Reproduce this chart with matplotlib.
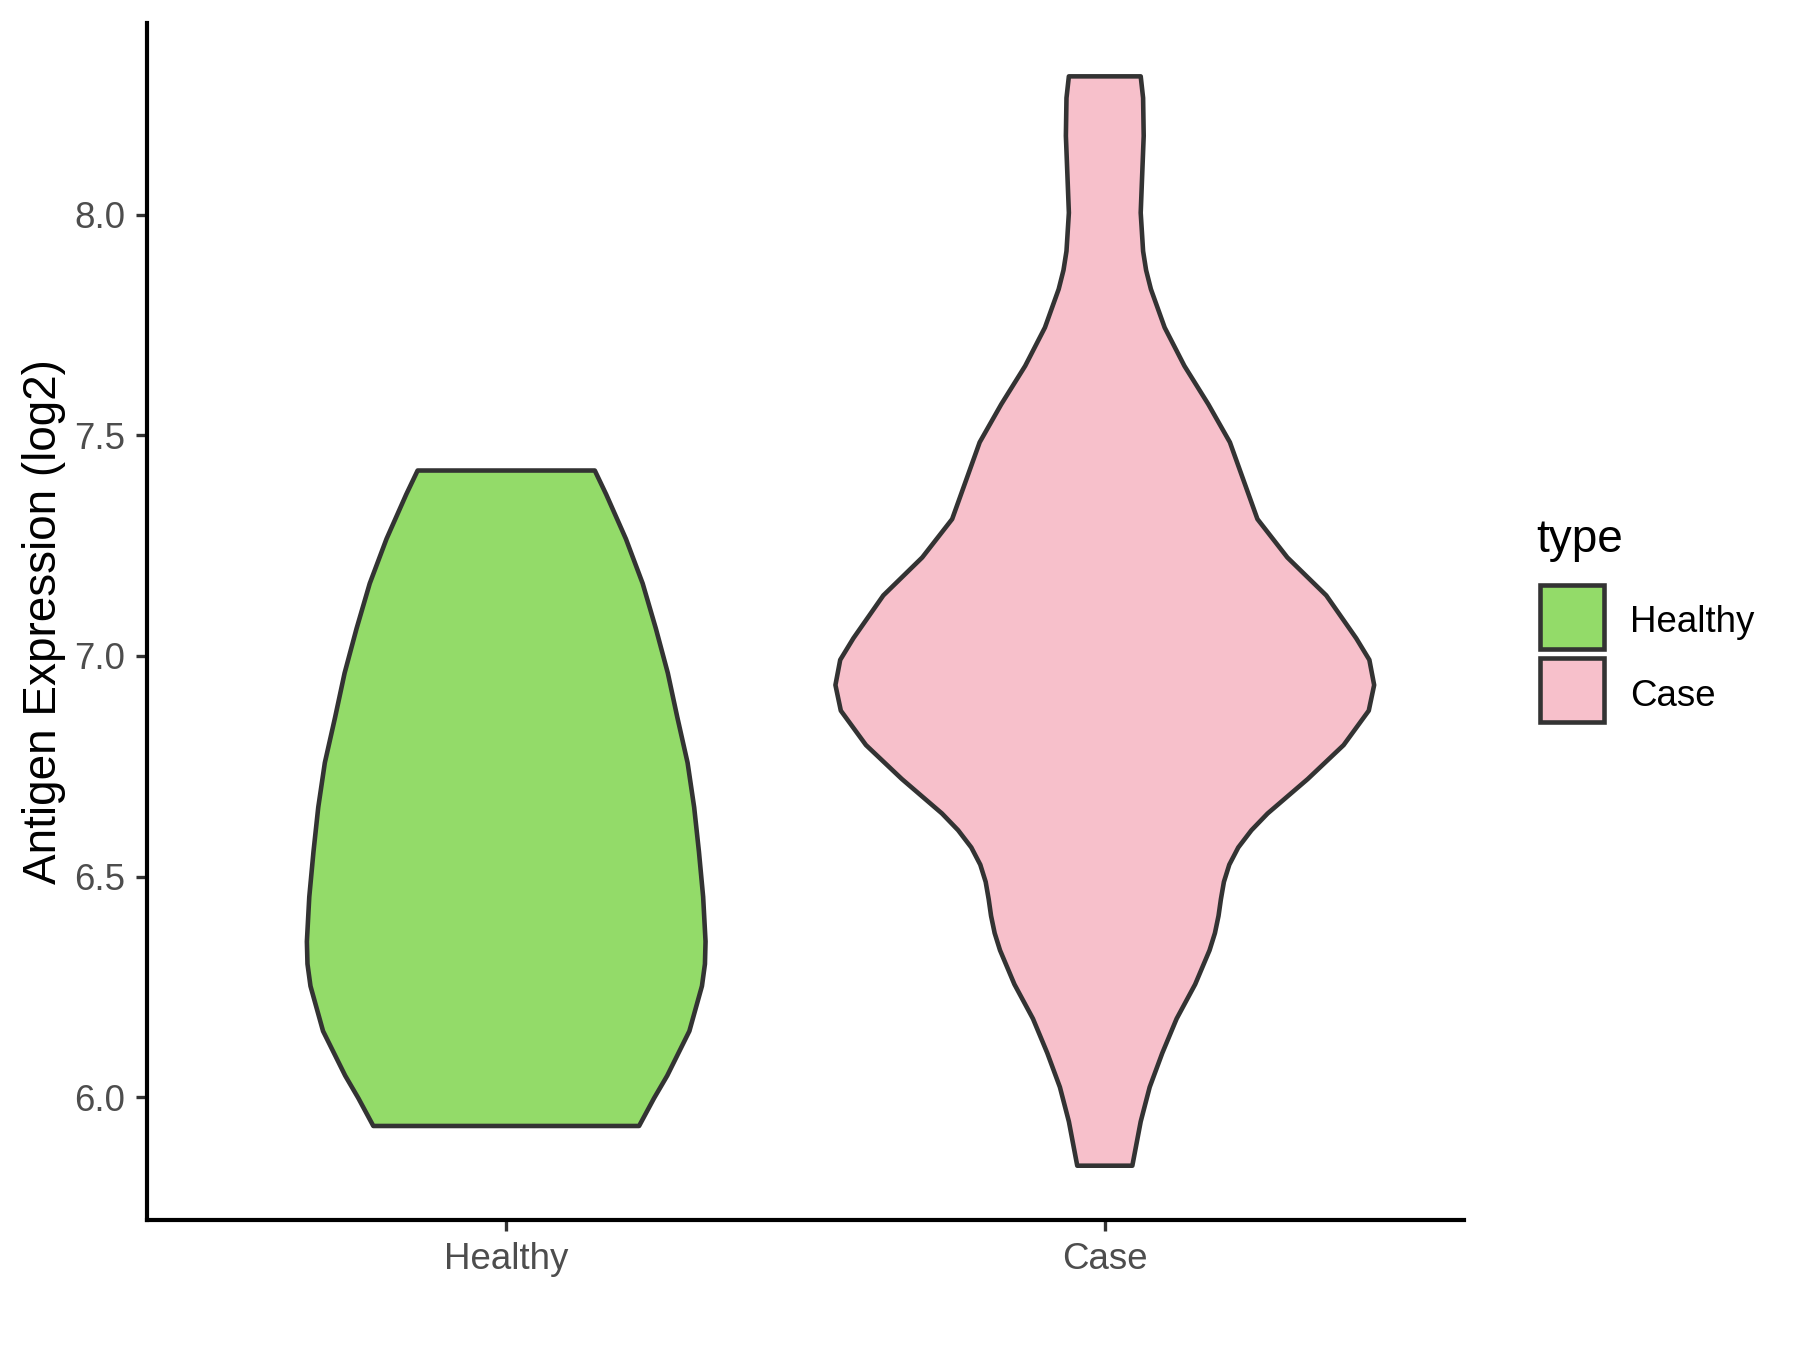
import numpy as np
import matplotlib.pyplot as plt
from matplotlib.patches import Rectangle

plt.rcParams['font.family'] = ['Liberation Sans', 'DejaVu Sans']

# groups and colours
groups = ['Healthy', 'Case']
colors = ['#93DB69', '#F7C0CB']

# violin outlines: expression level and half width (x units)
healthy_y = [5.935, 5.998, 6.049, 6.150, 6.252, 6.302, 6.353, 6.454, 6.556,
             6.657, 6.758, 6.860, 6.961, 7.062, 7.164, 7.265, 7.366, 7.420]
healthy_w = [0.222, 0.247, 0.269, 0.306, 0.327, 0.332, 0.333, 0.329, 0.322,
             0.314, 0.303, 0.286, 0.270, 0.250, 0.228, 0.200, 0.167, 0.148]

case_y = [5.845, 5.945, 6.023, 6.100, 6.178, 6.256, 6.333, 6.372, 6.411, 6.449,
          6.488, 6.527, 6.566, 6.605, 6.643, 6.721, 6.798, 6.876, 6.934, 6.991,
          7.040, 7.137, 7.223, 7.310, 7.397, 7.484, 7.570, 7.657, 7.744, 7.831,
          7.874, 7.917, 8.004, 8.091, 8.178, 8.264, 8.313]
case_w = [0.046, 0.060, 0.075, 0.096, 0.120, 0.151, 0.175, 0.184, 0.190, 0.194,
          0.199, 0.208, 0.223, 0.245, 0.272, 0.339, 0.399, 0.441, 0.450, 0.442,
          0.420, 0.370, 0.305, 0.255, 0.232, 0.209, 0.173, 0.133, 0.100, 0.077,
          0.069, 0.064, 0.060, 0.0625, 0.065, 0.064, 0.060]

profiles = [(healthy_y, healthy_w), (case_y, case_w)]

fig = plt.figure(figsize=(6, 4.5), dpi=300)
ax = fig.add_axes([0.0817, 0.0963, 0.7316, 0.8867])

for i, (yy, ww) in enumerate(profiles):
    yy = np.array(yy)
    ww = np.array(ww)
    pos = i + 1
    xs = np.concatenate([pos - ww, (pos + ww)[::-1]])
    ys = np.concatenate([yy, yy[::-1]])
    ax.fill(xs, ys, facecolor=colors[i], edgecolor='#333333', linewidth=1.1,
            joinstyle='round')

ax.set_xlim(0.4, 2.6)
ax.set_ylim(5.722, 8.434)
ax.set_xticks([1, 2])
ax.set_xticklabels(groups)
ax.set_yticks([6.0, 6.5, 7.0, 7.5, 8.0])
ax.set_yticklabels(['6.0', '6.5', '7.0', '7.5', '8.0'])
ax.tick_params(axis='both', labelsize=8.8, labelcolor='#4D4D4D',
               color='#333333', length=2.75, width=0.8)
ax.tick_params(axis='x', pad=2.5)
ax.tick_params(axis='y', pad=2.5)

for s in ['top', 'right']:
    ax.spines[s].set_visible(False)
for s in ['left', 'bottom']:
    ax.spines[s].set_linewidth(1.0)
    ax.spines[s].set_color('black')

ax.set_ylabel('Antigen Expression (log2)', fontsize=11, labelpad=2)

# legend drawn by hand, as in ggplot
fig.text(1536 / 1800, 1 - 540 / 1350, 'type', fontsize=11, ha='left', va='center')
key_tops = [585, 658]
for i, g in enumerate(groups):
    top = key_tops[i]
    fig.add_artist(Rectangle((1540 / 1800, 1 - (top + 64) / 1350), 64 / 1800, 64 / 1350,
                             transform=fig.transFigure, facecolor=colors[i],
                             edgecolor='#333333', linewidth=1.1))
    fig.text(1630 / 1800, 1 - (top + 38) / 1350, g, fontsize=8.8,
             ha='left', va='center')

fig.savefig('out.png', dpi=300)
